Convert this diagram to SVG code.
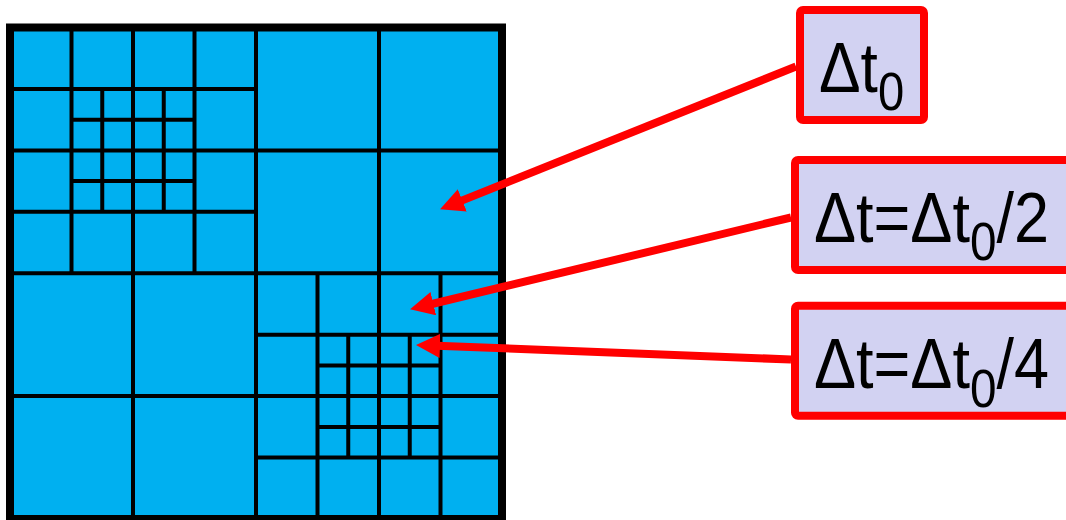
<svg xmlns="http://www.w3.org/2000/svg" width="1066" height="520" viewBox="0 0 1066 520">
  <style>
    .g { stroke: #000; stroke-width: 4; fill: none; }
    .box { fill: #D2D2F2; stroke: #FF0000; stroke-width: 8; }
    .lbl { font-family: "Liberation Sans", Arial, sans-serif; font-size: 70px; fill: #000; }
    .sub { font-size: 53px; }
    .conn { stroke: #FF0000; stroke-width: 8; fill: none; marker-end: url(#ah); }
  </style>
  <defs>
    <marker id="ah" viewBox="0 0 24 24" refX="10" refY="12" markerWidth="24" markerHeight="24" markerUnits="userSpaceOnUse" orient="auto">
      <path d="M0,0 L24,12 L0,24 Z" fill="#FF0000"/>
    </marker>
  </defs>

  <g id="grid">
    <rect x="10" y="27.5" width="492" height="491.5" fill="#00B0F0"/>
    <path class="g" d="
      M256,27.5 V519 M10,273.3 H502
      M133,27.5 V519 M379,27.5 V519
      M10,150.4 H502 M10,396.1 H502
      M71.5,27.5 V273.3 M194.5,27.5 V273.3
      M10,88.9 H256 M10,211.8 H256
      M102.25,88.9 V211.8 M163.75,88.9 V211.8
      M71.5,119.7 H194.5 M71.5,181.1 H194.5
      M317.5,273.3 V519 M440.5,273.3 V519
      M256,334.7 H502 M256,457.6 H502
      M348.25,334.7 V457.6 M409.75,334.7 V457.6
      M317.5,365.4 H440.5 M317.5,426.9 H440.5"/>
    <rect x="10" y="27.5" width="492" height="491.5" fill="none" stroke="#000" stroke-width="8"/>
  </g>

  <g id="connectors">
    <line class="conn" x1="796" y1="66.5" x2="453" y2="204.1"/>
    <line class="conn" x1="791" y1="217.5" x2="423.6" y2="306"/>
    <line class="conn" x1="791" y1="359.5" x2="430" y2="345.5"/>
  </g>

  <g id="box-dt0">
    <rect class="box" x="800" y="10" width="124" height="110" rx="3"/>
    <text class="lbl" transform="translate(819,91.7) scale(0.89,1)">Δt<tspan class="sub" dy="18.3">0</tspan></text>
  </g>

  <g id="box-dt2">
    <rect class="box" x="795" y="160" width="300" height="110" rx="3"/>
    <text class="lbl" transform="translate(814,241.7) scale(0.9,1)">Δt=Δt<tspan class="sub" dy="18.3">0</tspan><tspan dy="-18.3">/2</tspan></text>
  </g>

  <g id="box-dt4">
    <rect class="box" x="795" y="305.7" width="300" height="110" rx="3"/>
    <text class="lbl" transform="translate(814,388.3) scale(0.9,1)">Δt=Δt<tspan class="sub" dy="18.3">0</tspan><tspan dy="-18.3">/4</tspan></text>
  </g>
</svg>
